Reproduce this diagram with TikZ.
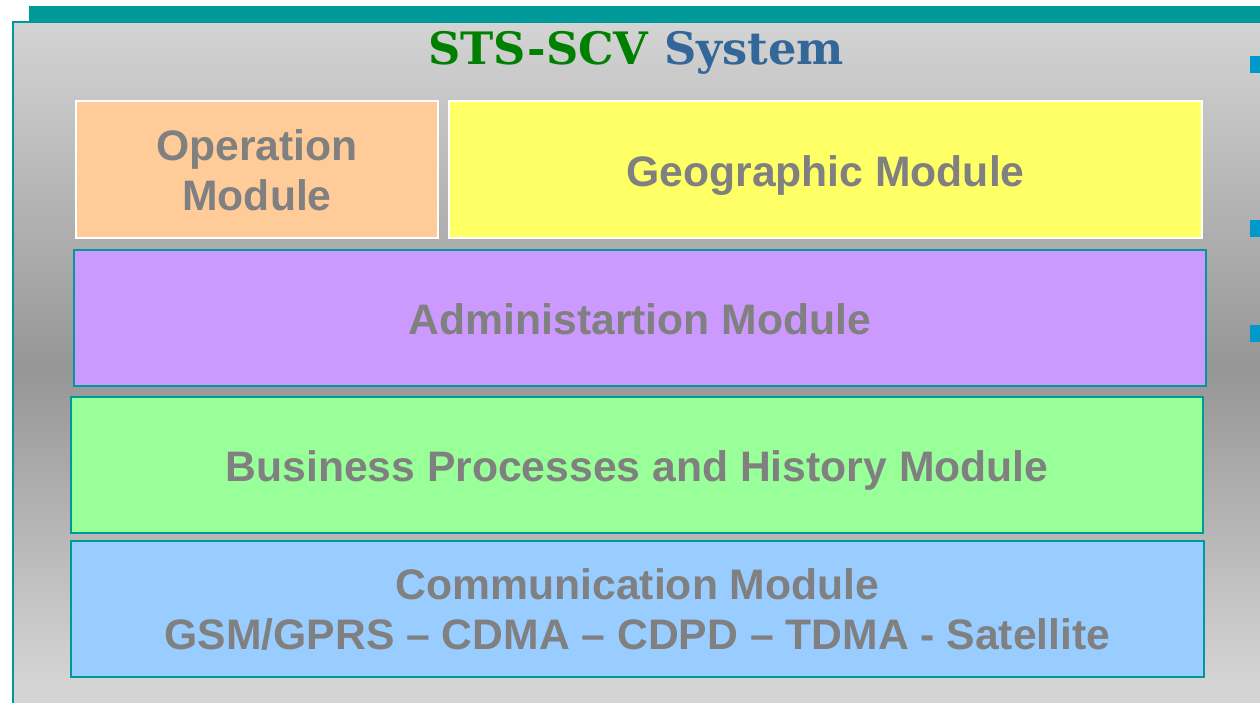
\documentclass[tikz,border=0pt]{standalone}
\usepackage{fontspec}
\setmainfont{Liberation Sans}
\newfontfamily\titlefont{DejaVu Serif}
\usetikzlibrary{positioning}
\definecolor{barteal}{HTML}{009999}
\definecolor{panellight}{HTML}{D4D4D4}
\definecolor{paneldark}{HTML}{969696}
\definecolor{modgray}{HTML}{808080}
\definecolor{opfill}{HTML}{FFCC99}
\definecolor{geofill}{HTML}{FFFF66}
\definecolor{admfill}{HTML}{CC99FF}
\definecolor{busfill}{HTML}{99FF99}
\definecolor{comfill}{HTML}{99CCFF}
\definecolor{bulletblue}{HTML}{0099CC}
\definecolor{titlegreen}{HTML}{008000}
\definecolor{titleblue}{HTML}{336699}

\begin{document}
\begin{tikzpicture}[x=0.75pt,y=-0.75pt,
    module/.style={draw=barteal,line width=1.5pt,inner sep=0pt,align=center,text=modgray,
      font=\fontsize{32}{37.5}\selectfont\bfseries,text height=31.5pt,text depth=6.75pt},
    twoline/.style={text height=67.5pt,text depth=6.75pt},
    topmodule/.style={module,draw=white},
    bullet/.style={fill=bulletblue,minimum width=12.75pt,minimum height=12.75pt,inner sep=0pt}]
  \useasboundingbox (0,0) rectangle (1260,703);
  \clip (0,0) rectangle (1260,703);

  % background panel
  \shade[top color=panellight,bottom color=paneldark] (12,21) rectangle (1270,370);
  \shade[top color=paneldark,bottom color=panellight] (12,370) rectangle (1270,680);
  \fill[panellight] (12,680) rectangle (1270,710);
  \draw[barteal,line width=1.5pt] (13,710) -- (13,22) -- (1270,22);
  \fill[barteal] (29,6) rectangle (1270,22);

  \node[anchor=base,font=\titlefont\fontsize{33.5}{40}\selectfont\bfseries] (title) at (636,64)
    {\textcolor{titlegreen}{STS-SCV} \textcolor{titleblue}{System}};

  \node[topmodule,twoline,fill=opfill,minimum width=271.5pt,minimum height=102.75pt] (op) at (257,169.5) {Operation\\Module};
  \node[topmodule,fill=geofill,minimum width=564.75pt,minimum height=102.75pt] (geo) at (825.5,169.5) {Geographic Module};
  \node[module,fill=admfill,minimum width=849pt,minimum height=102pt] (adm) at (640,318) {Administartion Module};
  \node[module,fill=busfill,minimum width=849pt,minimum height=102pt] (bus) at (637,465) {Business Processes and History Module};
  \node[module,twoline,fill=comfill,minimum width=849.75pt,minimum height=102pt] (com) at (637.5,609)
    {Communication Module\\GSM/GPRS -- CDMA -- CDPD -- TDMA - Satellite};

  \node[bullet] (b1) at (1258.5,64) {};
  \node[bullet] (b2) at (1258.5,228) {};
  \node[bullet] (b3) at (1258.5,333) {};
\end{tikzpicture}
\end{document}
